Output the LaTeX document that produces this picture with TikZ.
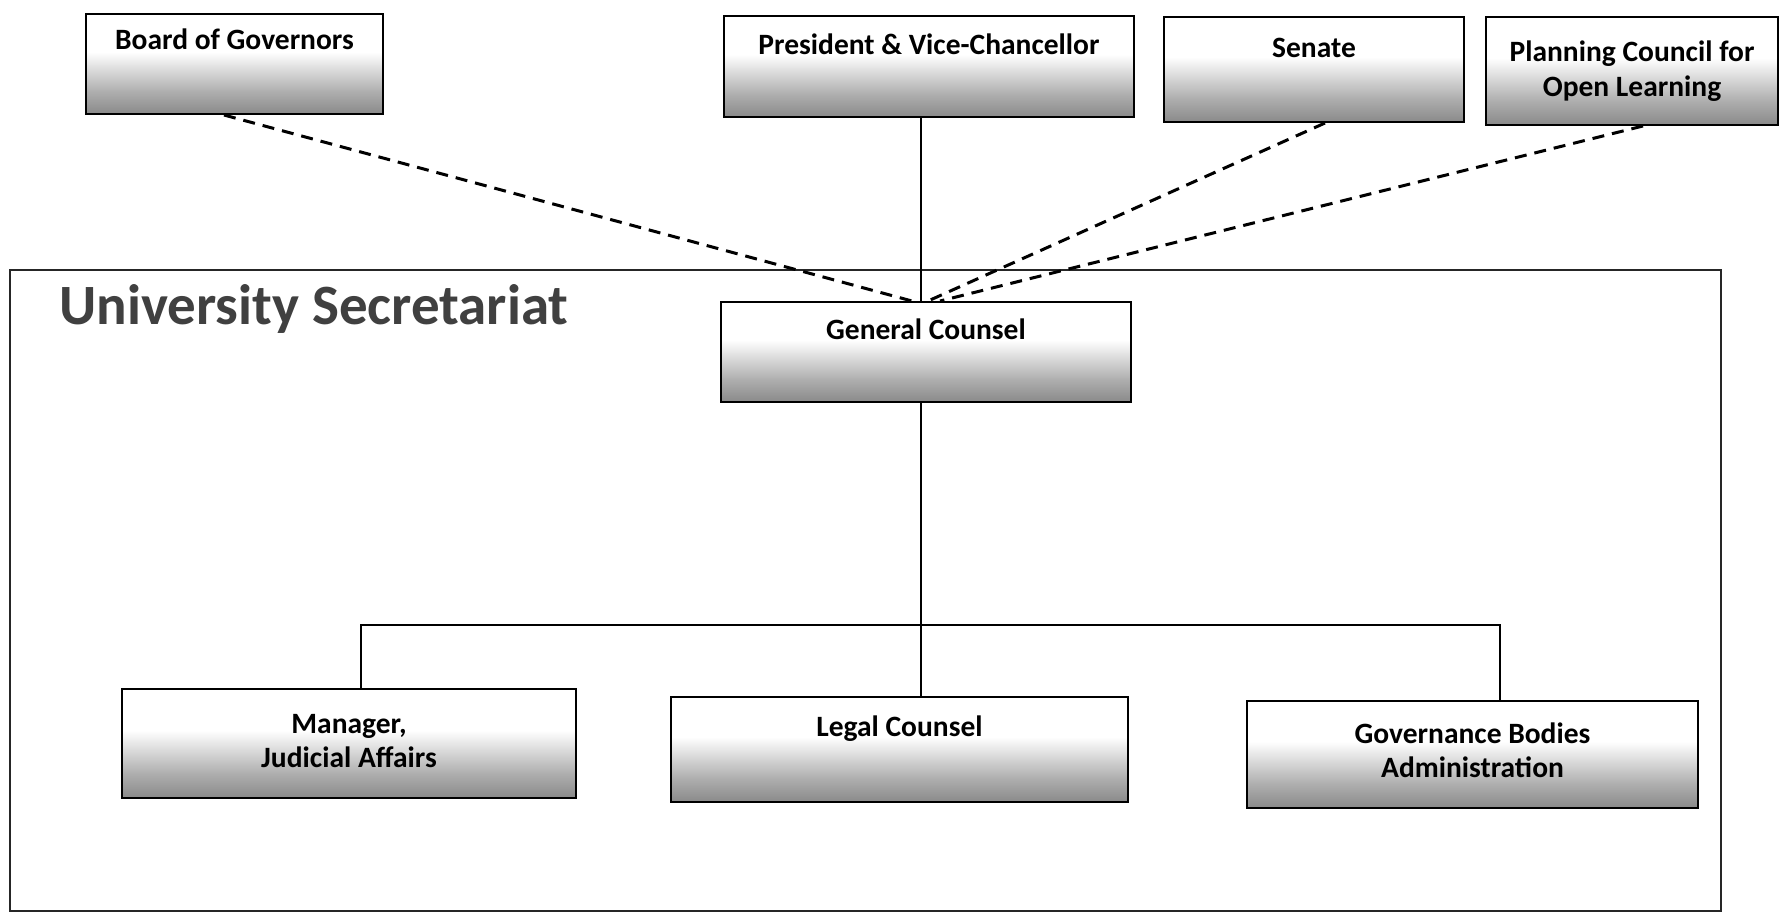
\documentclass[tikz,border=0pt]{standalone}
\usepackage{fontspec}
\setmainfont{Carlito}
\pgfdeclareverticalshading{orgshade}{100bp}{color(0bp)=(black!48); color(25bp)=(black!46); color(36bp)=(black!32); color(56bp)=(white); color(100bp)=(white)}
\begin{document}
\begin{tikzpicture}[x=1pt,y=-1pt]
\tikzset{
  orgbox/.style={draw=black, line width=2pt, inner sep=0pt, shading=orgshade},
  lbl/.style={anchor=base, inner sep=0pt, font=\bfseries\fontsize{29.5}{35}\selectfont, text=black},
  conn/.style={draw=black, line width=2pt},
  dconn/.style={draw=black, line width=3pt, dash pattern=on 12pt off 8pt},
  frame/.style={draw=black!85, line width=1.6pt, inner sep=0pt}
}
\useasboundingbox (0,0) rectangle (1781,919);
\fill[white] (0,0) rectangle (1781,919);

% secretariat frame
\node[frame, minimum width=1711pt, minimum height=641pt] (sec) at (865.5,590.5) {};
\node[anchor=base west, inner sep=0pt, text=black!75, font=\bfseries\fontsize{57}{60}\selectfont] (sect) at (59,324) {University Secretariat};

% coordinates for connector routing
\coordinate (spine) at (921,0);
\coordinate (busL) at (361,625);
\coordinate (busR) at (1500,625);

% boxes
\node[orgbox, minimum width=297pt, minimum height=100pt] (bog) at (234.5,64) {};
\node[orgbox, minimum width=410pt, minimum height=101pt] (pvc) at (929,66.5) {};
\node[orgbox, minimum width=300pt, minimum height=105pt] (sen) at (1314,69.5) {};
\node[orgbox, minimum width=292pt, minimum height=108pt] (pcol) at (1632,71) {};
\node[orgbox, minimum width=410pt, minimum height=100pt] (gc) at (926,352) {};
\node[orgbox, minimum width=454pt, minimum height=109pt] (mgr) at (349,743.5) {};
\node[orgbox, minimum width=457pt, minimum height=105pt] (lc) at (899.5,749.5) {};
\node[orgbox, minimum width=451pt, minimum height=107pt] (gba) at (1472.5,754.5) {};

% connectors
\draw[conn] (pvc.south -| spine) -- (gc.north -| spine);
\draw[conn] (gc.south -| spine) -- (spine |- busL);
\draw[conn] (mgr.north -| busL) -- (busL) -- (busR) -- (gba.north -| busR);
\draw[conn] (spine |- busL) -- (lc.north -| spine);

\draw[dconn] ([xshift=-10.5pt]bog.south) -- ([xshift=-14pt]gc.north);
\draw[dconn] ([xshift=11pt]sen.south) -- ([xshift=2pt]gc.north);
\draw[dconn] ([xshift=11pt]pcol.south) -- ([xshift=14pt]gc.north);

% labels
\node[lbl] (bogt) at (234.5,49) {Board of Governors};
\node[lbl] (pvct) at (929,54) {President \& Vice-Chancellor};
\node[lbl] (sent) at (1314,57) {Senate};
\node[lbl] (pcolt1) at (1632,61) {Planning Council for};
\node[lbl] (pcolt2) at (1632,96) {Open Learning};
\node[lbl] (gct) at (926,339) {General Counsel};
\node[lbl] (mgrt1) at (349,733) {Manager,};
\node[lbl] (mgrt2) at (349,767) {Judicial Affairs};
\node[lbl] (lct) at (899.5,736) {Legal Counsel};
\node[lbl] (gbat1) at (1472.5,743) {Governance Bodies};
\node[lbl] (gbat2) at (1472.5,777) {Administration};
\end{tikzpicture}
\end{document}
